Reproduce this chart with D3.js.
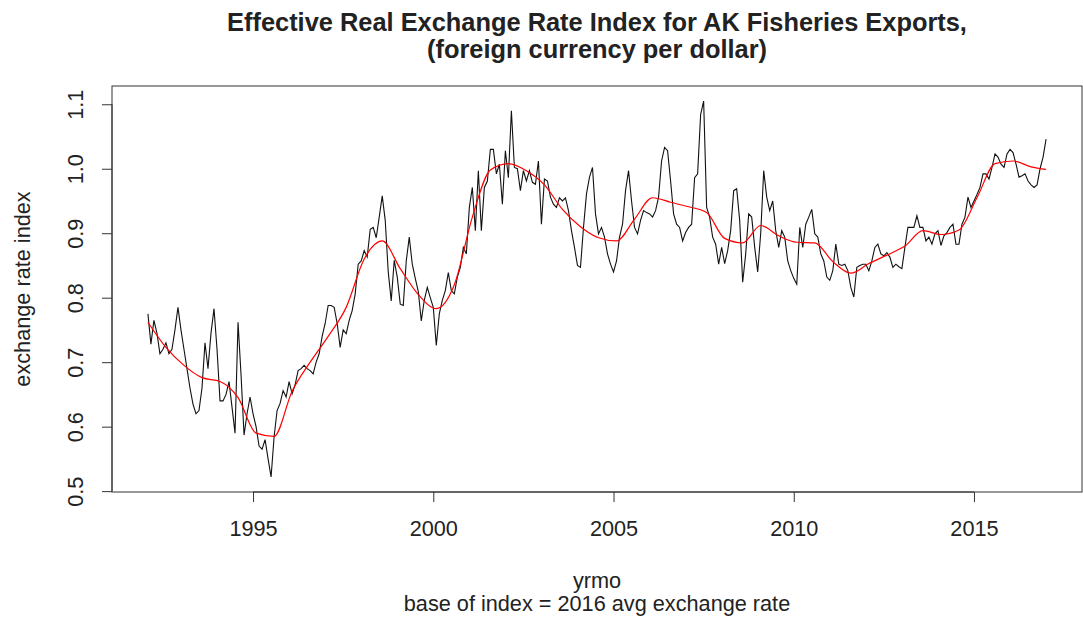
<!DOCTYPE html>
<html>
<head>
<meta charset="utf-8">
<script src="https://cdn.jsdelivr.net/npm/d3@7"></script>
<style>
  body { margin: 0; background: #fff; }
  text { font-family: "Liberation Sans", Arial, sans-serif; fill: #000; }
</style>
</head>
<body>
<svg id="chart" width="1083" height="619"></svg>
<script>
// monthly index, Jan 1992 .. Dec 2016 (12 per row)
var startYear = 1992;
var rate = [
  0.775, 0.728, 0.765, 0.745, 0.713, 0.720, 0.730, 0.713, 0.720, 0.750, 0.785, 0.750,
  0.720, 0.690, 0.660, 0.635, 0.620, 0.625, 0.660, 0.730, 0.690, 0.745, 0.783, 0.720,
  0.640, 0.640, 0.650, 0.670, 0.630, 0.590, 0.762, 0.680, 0.587, 0.620, 0.646, 0.620,
  0.600, 0.570, 0.565, 0.580, 0.550, 0.522, 0.584, 0.625, 0.636, 0.656, 0.646, 0.670,
  0.651, 0.665, 0.687, 0.690, 0.695, 0.690, 0.687, 0.682, 0.700, 0.713, 0.740, 0.760,
  0.788, 0.788, 0.785, 0.760, 0.723, 0.750, 0.744, 0.765, 0.780, 0.806, 0.852, 0.857,
  0.873, 0.863, 0.906, 0.909, 0.893, 0.925, 0.958, 0.920, 0.840, 0.795, 0.858, 0.832,
  0.790, 0.788, 0.857, 0.894, 0.852, 0.830, 0.810, 0.764, 0.796, 0.816, 0.800, 0.785,
  0.726, 0.775, 0.796, 0.811, 0.839, 0.811, 0.806, 0.832, 0.847, 0.878, 0.868, 0.940,
  0.971, 0.904, 0.997, 0.904, 0.971, 0.981, 1.030, 1.030, 0.992, 1.007, 0.945, 1.028,
  0.986, 1.090, 1.002, 1.000, 0.966, 0.997, 0.981, 0.997, 0.979, 0.976, 1.012, 0.914,
  0.984, 0.981, 0.956, 0.945, 0.940, 0.955, 0.950, 0.955, 0.935, 0.904, 0.878, 0.850,
  0.847, 0.909, 0.961, 0.987, 1.002, 0.930, 0.899, 0.909, 0.894, 0.868, 0.852, 0.840,
  0.857, 0.894, 0.914, 0.966, 0.997, 0.950, 0.909, 0.899, 0.920, 0.935, 0.932, 0.930,
  0.925, 0.935, 0.956, 1.012, 1.033, 1.028, 0.981, 0.930, 0.914, 0.909, 0.888, 0.901,
  0.909, 0.914, 0.986, 0.992, 1.084, 1.105, 0.940, 0.925, 0.894, 0.883, 0.852, 0.878,
  0.853, 0.873, 0.904, 0.966, 0.969, 0.920, 0.824, 0.868, 0.930, 0.925, 0.878, 0.840,
  0.900, 0.997, 0.956, 0.935, 0.950, 0.904, 0.878, 0.904, 0.894, 0.857, 0.842, 0.830,
  0.821, 0.909, 0.878, 0.914, 0.925, 0.937, 0.899, 0.894, 0.868, 0.857, 0.832, 0.827,
  0.842, 0.883, 0.852, 0.850, 0.852, 0.842, 0.816, 0.801, 0.847, 0.850, 0.852, 0.852,
  0.842, 0.857, 0.878, 0.883, 0.868, 0.865, 0.870, 0.863, 0.847, 0.852, 0.848, 0.845,
  0.878, 0.909, 0.909, 0.909, 0.927, 0.909, 0.909, 0.888, 0.894, 0.883, 0.899, 0.904,
  0.881, 0.896, 0.901, 0.909, 0.914, 0.883, 0.883, 0.914, 0.925, 0.956, 0.940, 0.950,
  0.960, 0.971, 0.992, 0.992, 0.984, 1.002, 1.023, 1.018, 1.007, 1.002, 1.023, 1.030,
  1.025, 1.007, 0.987, 0.989, 0.992, 0.981, 0.975, 0.971, 0.975, 1.000, 1.018, 1.046
];

// smoothed trend (red), read every 6 months (month index from Jan 1992)
var trendMonth = [0, 6, 12, 18, 24, 30, 36, 42, 48, 54, 60, 66, 72, 78, 84, 90, 96, 102,
  108, 114, 120, 126, 132, 138, 144, 150, 156, 162, 168, 174, 180, 186, 192, 198, 204,
  210, 216, 222, 228, 234, 240, 246, 252, 258, 264, 270, 276, 282, 288, 294, 299];
var trend = [0.762, 0.723, 0.695, 0.676, 0.670, 0.645, 0.590, 0.585, 0.655, 0.700, 0.740,
  0.785, 0.860, 0.888, 0.845, 0.805, 0.783, 0.820, 0.925, 0.998, 1.008, 0.997, 0.975,
  0.937, 0.910, 0.893, 0.888, 0.922, 0.955, 0.948, 0.941, 0.932, 0.892, 0.885, 0.912,
  0.896, 0.886, 0.885, 0.856, 0.838, 0.853, 0.866, 0.880, 0.904, 0.898, 0.905, 0.955,
  1.008, 1.012, 1.003, 0.999];

var yTicks = [0.5, 0.6, 0.7, 0.8, 0.9, 1.0, 1.1];
var xTicks = [1995, 2000, 2005, 2010, 2015];

var titleLines = ["Effective Real Exchange Rate Index for AK Fisheries Exports,",
                  "(foreign currency per dollar)"];

function yrmo(i) { return startYear + (i + 1) / 12; }

var svg = d3.select('#chart');
var L = 112, R = 1082, T = 86, B = 492;
var labelSize = '21.7px';

// R-style 4% padding of the data range
function pad(ext) { var d = (ext[1] - ext[0]) * 0.04; return [ext[0] - d, ext[1] + d]; }
var x = d3.scaleLinear().domain(pad([yrmo(0), yrmo(rate.length - 1)])).range([L, R]);
var y = d3.scaleLinear().domain(pad(d3.extent(rate))).range([B, T]);

// box
svg.append('rect').attr('x', L).attr('y', T).attr('width', R - L).attr('height', B - T)
  .style('fill', 'none').style('stroke', '#333').style('stroke-width', 1);

// y axis
var gy = svg.append('g').attr('transform', 'translate(' + L + ',0)')
  .call(d3.axisLeft(y).tickValues(yTicks).tickSize(10).tickFormat(d3.format('.1f')));
gy.select('.domain').remove();
gy.append('line').attr('x1', 0).attr('x2', 0).attr('y1', y(yTicks[0])).attr('y2', y(yTicks[yTicks.length - 1]))
  .style('stroke', '#333');
gy.selectAll('.tick line').style('stroke', '#333');
gy.selectAll('.tick text').attr('x', 0).attr('dy', 0)
  .attr('transform', 'translate(-29,0) rotate(-90)')
  .style('text-anchor', 'middle').style('font-size', labelSize).style('fill', '#222')
  .style('font-family', '"Liberation Sans", Arial, sans-serif');

// x axis
var gx = svg.append('g').attr('transform', 'translate(0,' + B + ')')
  .call(d3.axisBottom(x).tickValues(xTicks).tickSize(10).tickFormat(d3.format('d')));
gx.select('.domain').remove();
gx.append('line').attr('y1', 0).attr('y2', 0).attr('x1', x(xTicks[0])).attr('x2', x(xTicks[xTicks.length - 1]))
  .style('stroke', '#333');
gx.selectAll('.tick line').style('stroke', '#333');
gx.selectAll('.tick text').attr('y', 44).attr('dy', 0)
  .style('font-size', labelSize).style('fill', '#222')
  .style('font-family', '"Liberation Sans", Arial, sans-serif');

// series
var line = d3.line().x(function(d, i) { return x(yrmo(i)); }).y(function(d) { return y(d); });
svg.append('path').datum(rate).attr('d', line)
  .style('fill', 'none').style('stroke', '#111').style('stroke-width', 1.1);

var trendLine = d3.line().curve(d3.curveMonotoneX)
  .x(function(d, i) { return x(yrmo(trendMonth[i])); }).y(function(d) { return y(d); });
svg.append('path').datum(trend).attr('d', trendLine)
  .style('fill', 'none').style('stroke', '#ff0000').style('stroke-width', 1.2);

// titles
var cx = (L + R) / 2;
svg.selectAll('.title').data(titleLines).enter().append('text').attr('class', 'title')
  .attr('x', cx).attr('y', function(d, i) { return 31 + i * 27; })
  .style('text-anchor', 'middle').style('font-weight', 'bold').style('font-size', '25.4px')
  .style('fill', '#222').text(function(d) { return d; });

svg.append('text').attr('x', cx).attr('y', 588).style('text-anchor', 'middle')
  .style('font-size', labelSize).style('fill', '#222').text('yrmo');
svg.append('text').attr('x', cx).attr('y', 611).style('text-anchor', 'middle')
  .style('font-size', labelSize).style('fill', '#222').text('base of index = 2016 avg exchange rate');

svg.append('text').attr('transform', 'translate(30,' + ((T + B) / 2) + ') rotate(-90)')
  .style('text-anchor', 'middle').style('font-size', labelSize).style('fill', '#222')
  .text('exchange rate index');
</script>
</body>
</html>
